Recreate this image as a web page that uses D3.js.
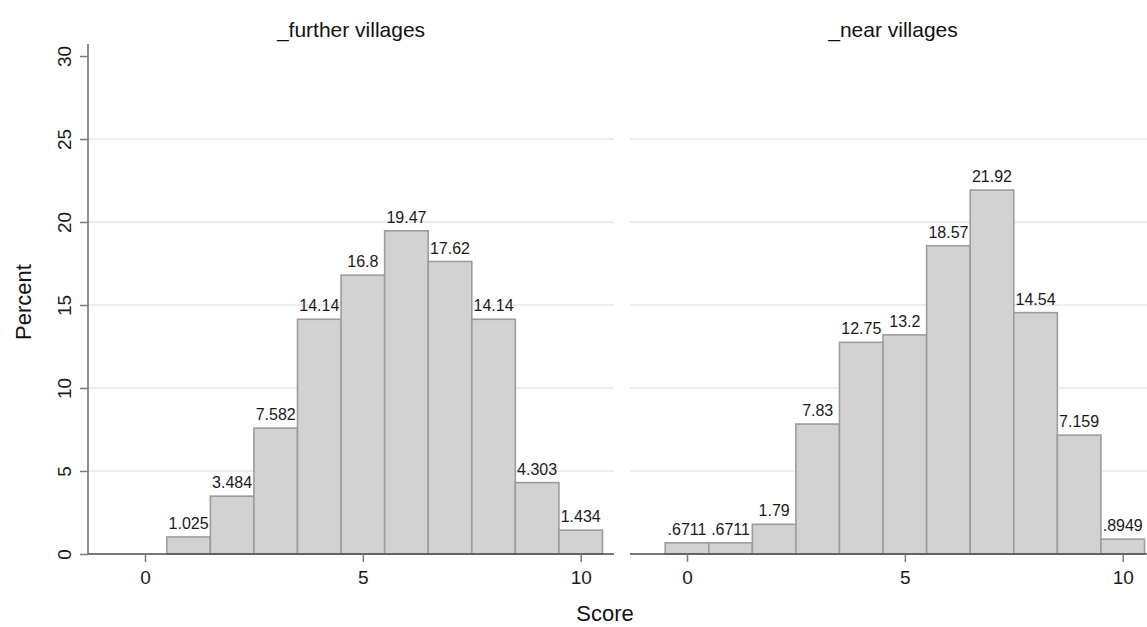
<!DOCTYPE html>
<html>
<head>
<meta charset="utf-8">
<script src="https://cdn.jsdelivr.net/npm/d3@7"></script>
<style>
  html, body { margin: 0; padding: 0; background: #fff; }
  svg { display: block; font-family: "Liberation Sans", Arial, sans-serif; }
</style>
</head>
<body>
<svg id="chart" width="1147" height="627"></svg>
<script>
// Histogram of Score by village group (percent of observations per integer score)
const scores = [0, 1, 2, 3, 4, 5, 6, 7, 8, 9, 10];
const panelTitles = ["_further villages", "_near villages"];
const furtherPct = [0, 1.025, 3.484, 7.582, 14.14, 16.8, 19.47, 17.62, 14.14, 4.303, 1.434];
const nearPct = [0.6711, 0.6711, 1.79, 7.83, 12.75, 13.2, 18.57, 21.92, 14.54, 7.159, 0.8949];
const yTicks = [0, 5, 10, 15, 20, 25, 30];
const xTicks = [0, 5, 10];
const gridValues = [5, 10, 15, 20, 25];

const panels = [
  { title: panelTitles[0], values: furtherPct, left: 88 },
  { title: panelTitles[1], values: nearPct, left: 630 }
];

const svg = d3.select("#chart");
const panelWidth = 526;
const xDomain = [-1.308, 10.764];
const y = d3.scaleLinear().domain([0, 30]).range([554, 56]);

const fmt = v => d3.format(".4~g")(v).replace(/^0\./, ".");

panels.forEach((p, i) => {
  const x = d3.scaleLinear().domain(xDomain).range([p.left, p.left + panelWidth]);
  const g = svg.append("g");

  // horizontal gridlines
  g.selectAll("line.grid").data(gridValues).join("line")
    .attr("class", "grid")
    .attr("x1", p.left).attr("x2", p.left + panelWidth)
    .attr("y1", d => y(d)).attr("y2", d => y(d))
    .attr("stroke", "#e6e6e6").attr("stroke-width", 1.3);

  // bars
  const bins = scores.map((s, k) => ({ s, v: p.values[k] })).filter(d => d.v > 0);
  g.selectAll("rect.bar").data(bins).join("rect")
    .attr("class", "bar")
    .attr("x", d => x(d.s - 0.5))
    .attr("width", d => x(d.s + 0.5) - x(d.s - 0.5))
    .attr("y", d => y(d.v))
    .attr("height", d => y(0) - y(d.v))
    .attr("fill", "#d2d2d2")
    .attr("stroke", "#9c9c9c")
    .attr("stroke-width", 1.6);

  // bar value labels
  g.selectAll("text.val").data(bins).join("text")
    .attr("class", "val")
    .attr("x", d => x(d.s))
    .attr("y", d => y(d.v) - 8)
    .attr("text-anchor", "middle")
    .attr("font-size", 16)
    .attr("fill", "#1a1a1a")
    .text(d => fmt(d.v));

  // x axis
  const xAxis = d3.axisBottom(x).tickValues(xTicks).tickSize(8).tickPadding(9).tickFormat(d3.format("d"));
  const xa = g.append("g").attr("transform", `translate(0,${y(0)})`).call(xAxis);
  xa.select(".domain").attr("stroke", "#4d4d4d").attr("stroke-width", 1.5)
    .attr("d", `M${p.left},0H${p.left + panelWidth}`);
  xa.selectAll(".tick line").attr("stroke", "#7a7a7a").attr("stroke-width", 1.5);
  xa.selectAll(".tick text").attr("font-size", 19).attr("fill", "#1a1a1a")
    .attr("font-family", "Liberation Sans, Arial, sans-serif");

  // panel title
  g.append("text")
    .attr("x", p.left + panelWidth / 2).attr("y", 37)
    .attr("text-anchor", "middle")
    .attr("font-size", 21)
    .attr("fill", "#111")
    .text(p.title);

  // y axis on the first panel only
  if (i === 0) {
    const yAxis = d3.axisLeft(y).tickValues(yTicks).tickSize(8).tickFormat(d3.format("d"));
    const ya = g.append("g").attr("transform", `translate(${p.left},0)`).call(yAxis);
    ya.select(".domain").attr("stroke", "#6a6a6a").attr("stroke-width", 1.5)
      .attr("d", `M0,${y(0)}V${y(30) - 12}`);
    ya.selectAll(".tick line").attr("stroke", "#7a7a7a").attr("stroke-width", 1.5);
    ya.selectAll(".tick text")
      .attr("font-size", 19).attr("fill", "#1a1a1a")
      .attr("font-family", "Liberation Sans, Arial, sans-serif")
      .attr("x", null).attr("dy", null)
      .attr("text-anchor", "middle")
      .attr("transform", "translate(-17,0) rotate(-90)");
  }
});

// axis titles
svg.append("text")
  .attr("transform", "translate(31,302) rotate(-90)")
  .attr("text-anchor", "middle")
  .attr("font-size", 22)
  .attr("fill", "#111")
  .text("Percent");

svg.append("text")
  .attr("x", 605).attr("y", 621)
  .attr("text-anchor", "middle")
  .attr("font-size", 22)
  .attr("fill", "#111")
  .text("Score");
</script>
</body>
</html>
